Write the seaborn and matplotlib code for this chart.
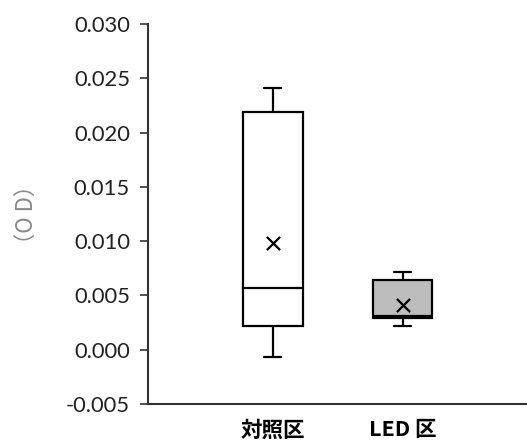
import matplotlib
matplotlib.use("Agg")
import matplotlib.pyplot as plt
import seaborn as sns
import pandas as pd

# ---- data (five-number summaries) ----
categories = ["対照区", "LED 区"]
whisker_low = [-0.0007, 0.0022]
q1 = [0.0022, 0.0029]
medians = [0.0057, 0.0031]
q3 = [0.0219, 0.0064]
whisker_high = [0.0241, 0.0072]
means = [0.0098, 0.0041]
y_ticks = [-0.005, 0.000, 0.005, 0.010, 0.015, 0.020, 0.025, 0.030]
y_label = "（O D）"

rows = []
for i, c in enumerate(categories):
    for v in (whisker_low[i], q1[i], medians[i], q3[i], whisker_high[i]):
        rows.append({"group": c, "value": v})
df = pd.DataFrame(rows)
df_mean = pd.DataFrame({"group": categories, "value": means})

sns.set_theme(style="white")
plt.rcParams["font.family"] = ["Lato", "Noto Sans CJK JP", "DejaVu Sans"]

fig = plt.figure(figsize=(5.27, 4.45), dpi=100)
ax = fig.add_axes([0.281, 0.092, 0.717, 0.854])

lw = 1.6
sns.boxplot(data=df, x="group", y="value", hue="group",
            palette={categories[0]: "white", categories[1]: "#bdbdbd"},
            order=categories, width=0.46, whis=(0, 100), legend=False,
            linecolor="black", linewidth=lw, capwidths=0.13,
            showfliers=False, ax=ax)
sns.scatterplot(data=df_mean, x="group", y="value", marker="x", color="black",
                s=90, linewidth=1.6, ax=ax, zorder=5)

ax.set_xlim(-0.96, 1.95)
ax.set_ylim(-0.005, 0.030)
ax.set_yticks(y_ticks)
ax.set_yticklabels([f"{t:.3f}" for t in y_ticks], fontsize=15.8, color="#222222")
ax.set_xticks(range(len(categories)))
ax.set_xticklabels(categories, family=["Noto Sans CJK JP", "DejaVu Sans"],
                   fontsize=15.5, fontweight="bold", color="black")
ax.set_xlabel("")
ax.set_ylabel(y_label, family=["Noto Sans CJK JP", "DejaVu Sans"],
              fontsize=16, color="#8a8a8a", labelpad=20)

for s in ("top", "right"):
    ax.spines[s].set_visible(False)
for s in ("left", "bottom"):
    ax.spines[s].set_color("#333333")
    ax.spines[s].set_linewidth(1.5)
ax.tick_params(axis="y", left=True, direction="out", length=6, width=1.2,
               color="#333333", pad=7)
ax.tick_params(axis="x", bottom=False, pad=5)

fig.savefig("out.png", dpi=100)
